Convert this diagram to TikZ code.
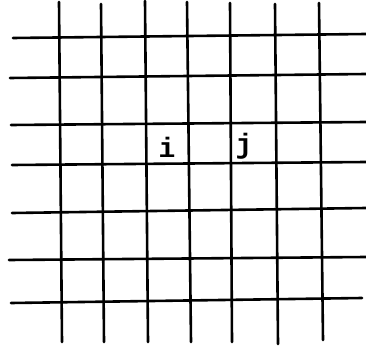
\documentclass[tikz,border=0pt]{standalone}
\usepackage{fontspec}
\newfontfamily\typefont{Liberation Mono}
\begin{document}
\begin{tikzpicture}[x=1pt, y=-1pt,
    gl/.style={line width=2.6pt, line cap=round},
    lbl/.style={font=\typefont\bfseries\fontsize{28}{28}\selectfont,
                inner sep=0pt, anchor=base},
  ]
  \useasboundingbox (0,0) rectangle (366,347);
  % rows
  \draw[gl] (13,38) -- (366,34);
  \draw[gl] (10,78) -- (366,74);
  \draw[gl] (11,125) -- (366,122);
  \draw[gl] (12,165) -- (366,162);
  \draw[gl] (12,213) -- (366,208);
  \draw[gl] (9,260) -- (366,257);
  \draw[gl] (11,303) -- (362,298);
  % columns
  \draw[gl] (59,2) -- (62,342);
  \draw[gl] (101,4) -- (104,342);
  \draw[gl] (145,1) -- (148,342);
  \draw[gl] (187,2) -- (191,342);
  \draw[gl] (230,3) -- (232,342);
  \draw[gl] (275,4) -- (278,344);
  \draw[gl] (319,3) -- (323,340);
  % cell labels
  \node[lbl] (ci) at (167,158) {i};
  \node[lbl] (cj) at (244,154) {j};
\end{tikzpicture}
\end{document}
